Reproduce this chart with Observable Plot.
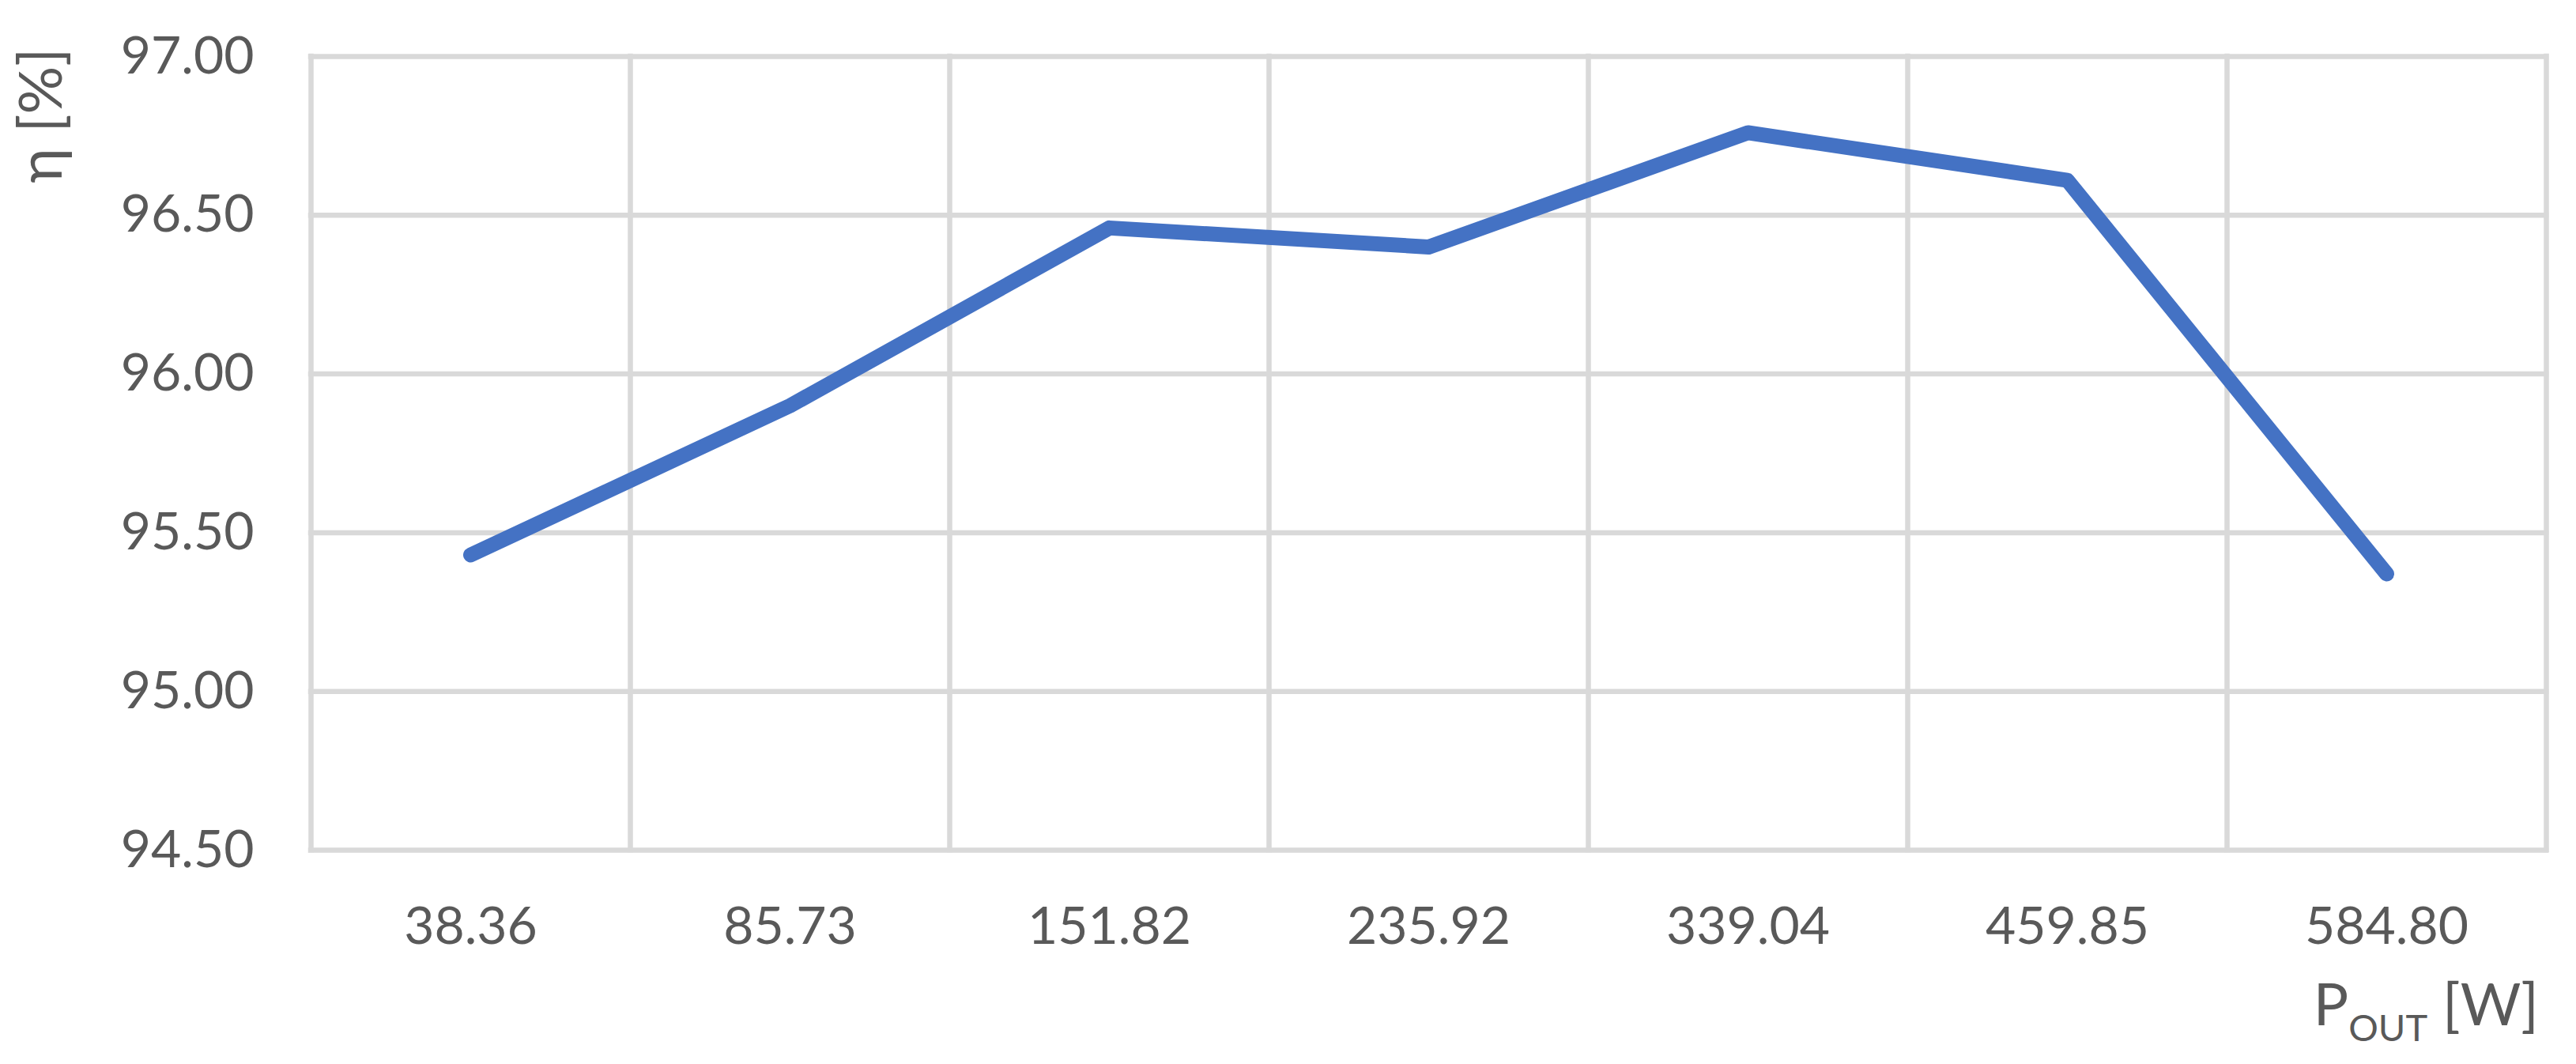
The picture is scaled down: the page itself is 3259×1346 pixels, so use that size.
<!DOCTYPE html>
<html>
<head>
<meta charset="utf-8">
<script src="https://cdn.jsdelivr.net/npm/d3@7"></script>
<script src="https://cdn.jsdelivr.net/npm/@observablehq/plot@0.6"></script>
<style>
  html, body { margin: 0; padding: 0; background: #ffffff; }
  #chart svg { display: block; }
</style>
</head>
<body>
<div id="chart"></div>
<script>
// Data
const categories = ["38.36", "85.73", "151.82", "235.92", "339.04", "459.85", "584.80"];
const efficiency = [95.43, 95.90, 96.46, 96.40, 96.76, 96.61, 95.37];
const yTicks = [94.5, 95.0, 95.5, 96.0, 96.5, 97.0];
const yLabel = "η [%]";
const xLabelMain = "P";
const xLabelSub = "OUT";
const xLabelUnit = " [W]";

const data = categories.map((c, i) => ({i, label: c, eff: efficiency[i]}));
const catIndex = categories.map((c, i) => i);
const boundaries = d3.range(categories.length + 1).map(i => i - 0.5);

const W = 3259, H = 1346;
const gridColor = "#d9d9d9";
const textColor = "#595959";
const font = "Lato, 'Open Sans', sans-serif";

const chart = Plot.plot({
  width: W,
  height: H,
  marginLeft: 393,
  marginRight: 38,
  marginTop: 71,
  marginBottom: 271,
  style: {fontFamily: font, fontSize: "66px", color: textColor, background: "#ffffff", overflow: "visible"},
  x: {domain: [-0.5, categories.length - 0.5]},
  y: {domain: [yTicks[0], yTicks[yTicks.length - 1]]},
  marks: [
    Plot.ruleY(yTicks, {stroke: gridColor, strokeWidth: 6.5, strokeLinecap: "square"}),
    Plot.ruleX(boundaries, {y1: yTicks[0], y2: yTicks[yTicks.length - 1], stroke: gridColor, strokeWidth: 6.5, strokeLinecap: "square"}),
    Plot.axisY({ticks: yTicks, tickFormat: d3.format(".2f"), tickSize: 0, tickPadding: 72, label: null, fontSize: 66}),
    Plot.axisX({ticks: catIndex, tickFormat: i => categories[i], tickSize: 0, tickPadding: 72, label: null, fontSize: 66}),
    Plot.line(data, {x: "i", y: "eff", stroke: "#4472C4", strokeWidth: 19, strokeLinecap: "round", strokeLinejoin: "round"})
  ]
});

document.getElementById("chart").appendChild(chart);

const svg = d3.select(chart);
// Y axis title (rotated)
svg.append("text")
  .attr("transform", "translate(78,146) rotate(-90)")
  .attr("text-anchor", "middle")
  .attr("fill", textColor)
  .attr("font-family", font)
  .attr("font-size", 76)
  .text(yLabel);

// X axis title with subscript
const xt = svg.append("text")
  .attr("x", 3212)
  .attr("y", 1297)
  .attr("text-anchor", "end")
  .attr("fill", textColor)
  .attr("font-family", font)
  .attr("font-size", 74);
xt.append("tspan").text(xLabelMain);
xt.append("tspan").attr("font-size", 47).attr("dy", 20).text(xLabelSub);
xt.append("tspan").attr("dy", -20).text(xLabelUnit);
</script>
</body>
</html>
